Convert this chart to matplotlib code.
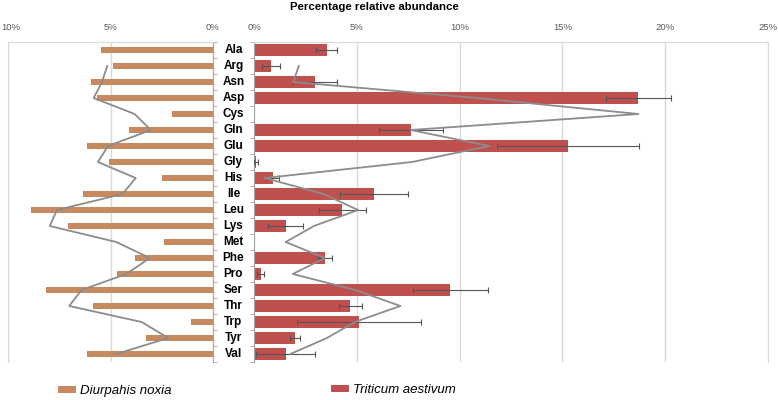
import numpy as np
import pandas as pd
import matplotlib
matplotlib.use('Agg')
import matplotlib.pyplot as plt
from matplotlib.transforms import blended_transform_factory, ScaledTranslation

plt.rcParams['font.family'] = ['Liberation Sans', 'DejaVu Sans']

# data (percent relative abundance)
amino_acids = ['Ala', 'Arg', 'Asn', 'Asp', 'Cys', 'Gln', 'Glu', 'Gly', 'His', 'Ile',
               'Leu', 'Lys', 'Met', 'Phe', 'Pro', 'Ser', 'Thr', 'Trp', 'Tyr', 'Val']
diuraphis = [5.46, 4.86, 5.97, 5.67, 1.98, 4.08, 6.16, 5.07, 2.47, 6.36,
             8.86, 7.07, 2.37, 3.79, 4.67, 8.16, 5.87, 1.09, 3.28, 6.16]
triticum = [3.53, 0.83, 2.98, 18.70, np.nan, 7.62, 15.26, 0.10, 0.94, 5.83,
            4.29, 1.54, np.nan, 3.45, 0.32, 9.55, 4.69, 5.11, 1.99, 1.54]
triticum_err = [0.50, 0.44, 1.07, 1.59, 0, 1.56, 3.46, 0.08, 0.30, 1.64,
                1.14, 0.85, 0, 0.32, 0.18, 1.82, 0.58, 3.00, 0.26, 1.45]

left_ticks = [10, 5, 0]
right_ticks = [0, 5, 10, 15, 20, 25]

col_dn = '#C68A5E'
col_ta = '#C0504D'
col_trend = '#8C8C8C'
col_grid = '#D9D9D9'
col_axis = '#A6A6A6'

y = np.arange(len(amino_acids))

# 2-period moving average trendlines (blank cells skipped)
trend_dn = pd.Series(diuraphis).rolling(2, min_periods=1).mean()
trend_ta = pd.Series(triticum).rolling(2, min_periods=1).mean()

fig = plt.figure(figsize=(7.78, 4.0), dpi=100)
ax_l = fig.add_axes([8 / 778, 0.095, 205 / 778, 0.8])
ax_r = fig.add_axes([254 / 778, 0.095, 514 / 778, 0.8])

# left panel
ax_l.barh(y, diuraphis, height=0.42, color=col_dn, zorder=2)
ax_l.plot(trend_dn[1:], y[1:], color=col_trend, lw=1.3, zorder=4)
ax_l.set_xlim(10, 0)

# right panel
ax_r.barh(y, triticum, height=0.7, color=col_ta, zorder=2)
ax_r.errorbar(triticum, y, xerr=triticum_err, fmt='none', ecolor='#555555',
              elinewidth=0.8, capsize=2.2, capthick=0.8, zorder=3)
ax_r.plot(trend_ta[1:], y[1:], color=col_trend, lw=1.3, zorder=4)
ax_r.set_xlim(0, 25)

for ax, ticks in [(ax_l, left_ticks), (ax_r, right_ticks)]:
    ax.set_ylim(len(amino_acids) - 0.5, -0.5)
    ax.xaxis.tick_top()
    ax.set_xticks(ticks)
    ax.set_xticklabels([f'{t}%' for t in ticks])
    ax.tick_params(axis='x', length=0, pad=7, labelsize=6.8, labelcolor='#595959')
    ax.xaxis.grid(True, color=col_grid, lw=1)
    ax.set_axisbelow(True)
    ax.set_yticks([])
    ax.set_yticks(np.arange(-0.5, len(amino_acids), 1), minor=True)
    ax.spines['bottom'].set_visible(False)
    ax.spines['top'].set_color(col_grid)

# keep the outermost "10%" label inside the figure
lbl = ax_l.get_xticklabels()[0]
lbl.set_transform(lbl.get_transform() + ScaledTranslation(3 / 100, 0, fig.dpi_scale_trans))

ax_l.yaxis.tick_right()
ax_l.tick_params(axis='y', which='minor', length=3, color=col_axis, direction='out')
ax_l.spines['left'].set_color(col_grid)
ax_l.spines['right'].set_color(col_axis)

ax_r.tick_params(axis='y', which='minor', length=3, color=col_axis, direction='out')
ax_r.spines['left'].set_color(col_axis)
ax_r.spines['right'].set_color(col_grid)

# category labels between the panels
trans = blended_transform_factory(fig.transFigure, ax_r.transData)
for yi, name in zip(y, amino_acids):
    ax_r.text(233.5 / 778, yi, name, transform=trans, ha='center', va='center',
              fontsize=8.5, fontweight='bold', color='black')

fig.text(374 / 778, 1 - 7 / 400, 'Percentage relative abundance', ha='center', va='center',
         fontsize=8.2, fontweight='bold')

h_dn = ax_l.containers[0]
h_ta = ax_r.containers[0]
fig.legend([h_dn], ['Diurpahis noxia'], loc='center left', bbox_to_anchor=(58 / 778, 1 - 391 / 400),
           frameon=False, borderpad=0, borderaxespad=0, handlelength=1.4, handleheight=0.4,
           handletextpad=0.3, prop={'style': 'italic', 'size': 9.5})
fig.legend([h_ta], ['Triticum aestivum'], loc='center left', bbox_to_anchor=(331 / 778, 1 - 390 / 400),
           frameon=False, borderpad=0, borderaxespad=0, handlelength=1.4, handleheight=0.4,
           handletextpad=0.3, prop={'style': 'italic', 'size': 9.5})

fig.savefig('out.png', dpi=100)
